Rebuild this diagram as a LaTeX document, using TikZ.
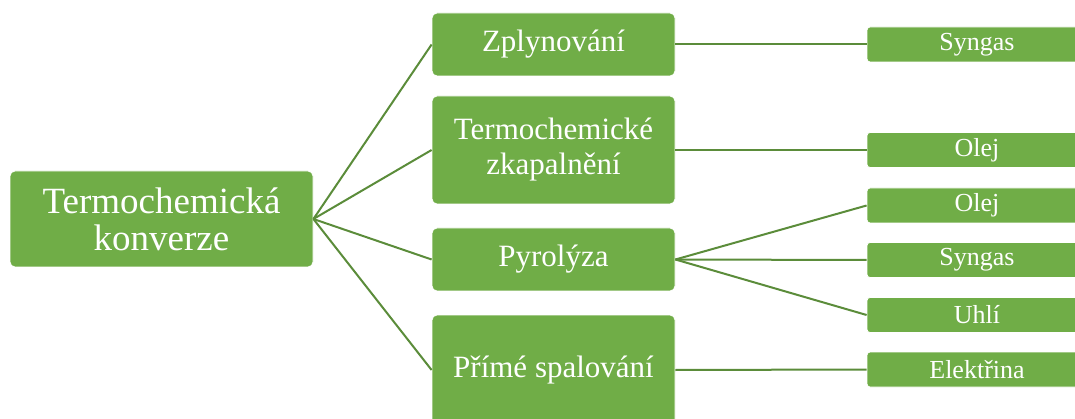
\documentclass[tikz,border=0pt]{standalone}
\usepackage{fontspec}
\setmainfont{Liberation Serif}
\definecolor{boxgreen}{HTML}{70AD47}
\definecolor{linegreen}{HTML}{5B8C3A}
\begin{document}
\begin{tikzpicture}[x=1pt,y=-1pt,
  gbox/.style={rectangle, rounded corners=5pt, fill=boxgreen, draw=white, line width=0.8pt,
    text=white, align=center, inner sep=0pt},
  rootbox/.style={gbox, minimum width=303pt, minimum height=96pt, font=\fontsize{37}{37}\selectfont},
  midbox/.style={gbox, minimum width=243pt, font=\fontsize{31}{35}\selectfont},
  outbox/.style={gbox, rounded corners=3pt, minimum width=220pt, minimum height=35pt, font=\fontsize{26}{28}\selectfont},
  link/.style={draw=linegreen, line width=2pt}]
\useasboundingbox (0,0) rectangle (1075,419);
\begin{scope}
\clip (0,0) rectangle (1075,419);
\node[rootbox] (root) at (161.5,219) {Termochemická\\konverze};
\node[midbox, minimum height=63pt] (zpl) at (553.5,44.5) {Zplynování};
\node[midbox, minimum height=108pt] (zka) at (553.5,150) {Termochemické\\zkapalnění};
\node[midbox, minimum height=63pt] (pyr) at (553.5,259.5) {Pyrolýza};
\node[midbox, minimum height=110pt] (spa) at (553.5,370) {Přímé spalování};
\node[outbox] (o1) at (977,44.5) {Syngas};
\node[outbox] (o2) at (977,150) {Olej};
\node[outbox] (o3) at (977,205.5) {Olej};
\node[outbox] (o4) at (977,260) {Syngas};
\node[outbox] (o5) at (977,315) {Uhlí};
\node[outbox] (o6) at (977,369.5) {Elektřina};
\draw[link] (root.east) -- (zpl.west);
\draw[link] (root.east) -- (zka.west);
\draw[link] (root.east) -- (pyr.west);
\draw[link] (root.east) -- (spa.west);
\draw[link] (zpl.east) -- (o1.west);
\draw[link] (zka.east) -- (o2.west);
\draw[link] (pyr.east) -- (o3.west);
\draw[link] (pyr.east) -- (o4.west);
\draw[link] (pyr.east) -- (o5.west);
\draw[link] (spa.east) -- (o6.west);
\end{scope}
\end{tikzpicture}
\end{document}
